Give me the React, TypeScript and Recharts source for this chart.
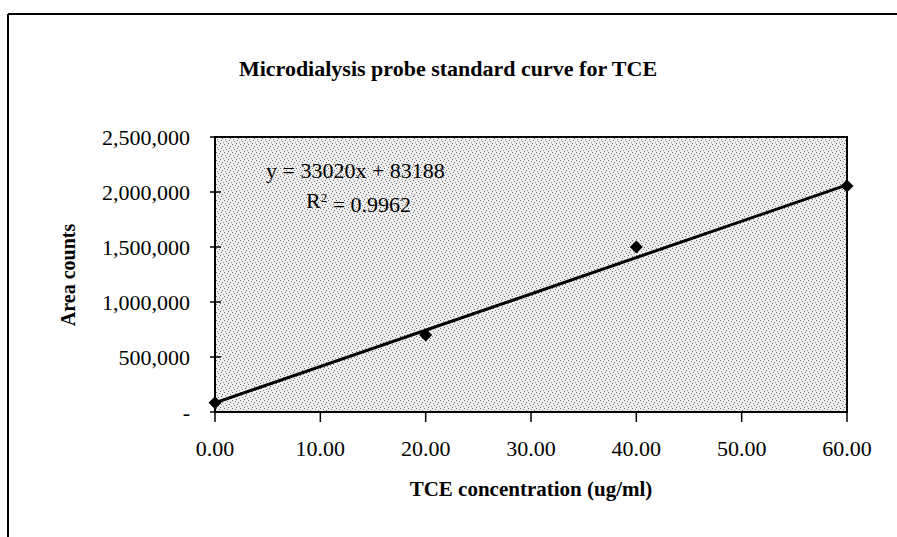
import { ComposedChart, Scatter, XAxis, YAxis, ReferenceArea } from "recharts"

// measured points (TCE ug/ml -> area counts)
const conc = [0, 20, 40, 60]
const area = [85000, 700000, 1500000, 2055000]

// linear trendline end points: y = 33020x + 83188
const trendX = [0, 60]
const trendY = [83188, 2064388]

const xTicks = [0, 10, 20, 30, 40, 50, 60]
const yTicks = [0, 500000, 1000000, 1500000, 2000000, 2500000]

const TITLE = "Microdialysis probe standard curve for TCE"
const X_TITLE = "TCE concentration (ug/ml)"
const Y_TITLE = "Area counts"
const EQ = "y = 33020x + 83188"

const points = conc.map((x, i) => ({ x, y: area[i] }))
const trend = trendX.map((x, i) => ({ x, y: trendY[i] }))

const FONT = "'Liberation Serif', 'Times New Roman', serif"

function Diamond(props: any) {
  const { cx, cy } = props
  const r = 6.5
  return <polygon points={`${cx},${cy - r} ${cx + r},${cy} ${cx},${cy + r} ${cx - r},${cy}`} fill="#000" />
}

function YTick(props: any) {
  const { x, y, payload } = props
  const v = payload.value as number
  return (
    <g>
      <line x1={x + 20} x2={x + 31} y1={y} y2={y} stroke="#000" strokeWidth={1.5} />
      <text x={x} y={y} dy="0.35em" textAnchor="end" fontFamily={FONT} fontSize={22} fill="#000">
        {v === 0 ? "-" : v.toLocaleString("en-US")}
      </text>
    </g>
  )
}

function XTick(props: any) {
  const { x, y, payload } = props
  return (
    <g>
      <line x1={x} x2={x} y1={y - 28} y2={y - 18} stroke="#000" strokeWidth={1.5} />
      <text x={x} y={y} dy="0.71em" textAnchor="middle" fontFamily={FONT} fontSize={22} fill="#000">
        {(payload.value as number).toFixed(2)}
      </text>
    </g>
  )
}

export default function App() {
  return (
    <div style={{ position: "absolute", left: 0, top: 0, width: 897, height: 537, background: "#fff" }}>
      <svg width={897} height={537} style={{ position: "absolute", left: 0, top: 0 }}>
        <line x1={8} x2={897} y1={14} y2={14} stroke="#000" strokeWidth={2} />
        <line x1={8} x2={8} y1={14} y2={537} stroke="#000" strokeWidth={2} />
      </svg>
      <ComposedChart
        width={897}
        height={537}
        margin={{ top: 137, right: 50, left: 115, bottom: 85 }}
        style={{ position: "absolute", left: 0, top: 0 }}
      >
        <defs>
          <pattern id="stipple" width="8" height="8" patternUnits="userSpaceOnUse">
            <rect width="8" height="8" fill="#eeeeee" />
            <rect x="0" y="0" width="1" height="1" fill="#666" />
            <rect x="3" y="1" width="1" height="1" fill="#888" />
            <rect x="6" y="2" width="1" height="1" fill="#666" />
            <rect x="1" y="3" width="1" height="1" fill="#999" />
            <rect x="5" y="4" width="1" height="1" fill="#666" />
            <rect x="2" y="5" width="1" height="1" fill="#777" />
            <rect x="7" y="6" width="1" height="1" fill="#888" />
            <rect x="4" y="7" width="1" height="1" fill="#666" />
          </pattern>
        </defs>
        <XAxis
          type="number"
          dataKey="x"
          domain={[0, 60]}
          ticks={xTicks}
          height={40}
          tickSize={5}
          tickMargin={23}
          tickLine={false}
          axisLine={{ stroke: "#000", strokeWidth: 2 }}
          tick={<XTick />}
          label={{ value: X_TITLE, position: "insideBottom", offset: -44, fill: "#000", fontFamily: FONT, fontSize: 21, fontWeight: "bold" }}
        />
        <YAxis
          type="number"
          dataKey="y"
          domain={[0, 2500000]}
          ticks={yTicks}
          width={100}
          tickSize={5}
          tickMargin={20}
          tickLine={false}
          axisLine={{ stroke: "#000", strokeWidth: 2 }}
          tick={<YTick />}
        />
        <ReferenceArea x1={0} x2={60} y1={0} y2={2500000} fill="url(#stipple)" fillOpacity={1} stroke="#000" strokeWidth={2} />
        <Scatter data={trend} line={{ stroke: "#000", strokeWidth: 3 }} shape={() => <g />} isAnimationActive={false} />
        <Scatter data={points} shape={<Diamond />} isAnimationActive={false} />
      </ComposedChart>
      <svg width={897} height={537} style={{ position: "absolute", left: 0, top: 0, pointerEvents: "none" }}>
        <g fontFamily={FONT} fill="#000">
          <text x={448} y={68} dy="0.35em" textAnchor="middle" fontSize={22} fontWeight="bold">{TITLE}</text>
          <text x={68} y={275} dy="0.35em" textAnchor="middle" fontSize={20} fontWeight="bold" transform="rotate(-90 68 275)">{Y_TITLE}</text>
          <text x={266} y={170} dy="0.35em" fontSize={22}>{EQ}</text>
          <text x={306} y={200} dy="0.35em" fontSize={22}>
            R<tspan dy="-0.45em" fontSize={13}>2</tspan><tspan dy="0.45em"> = 0.9962</tspan>
          </text>
        </g>
      </svg>
    </div>
  )
}
